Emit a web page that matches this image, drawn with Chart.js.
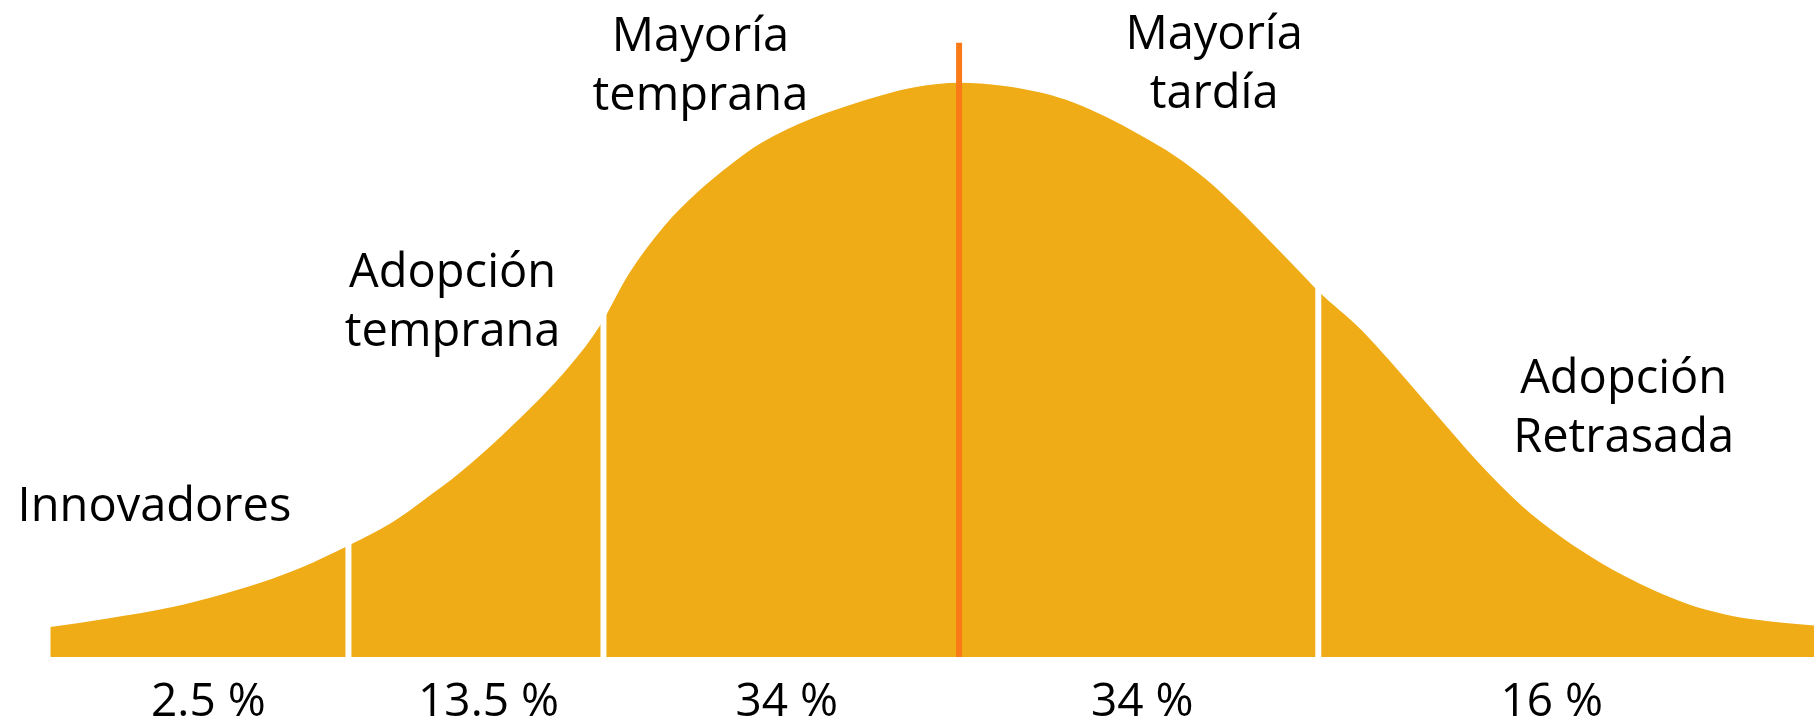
<!DOCTYPE html>
<html>
<head>
<meta charset="utf-8">
<script src="https://cdn.jsdelivr.net/npm/chart.js@4.4.1/dist/chart.umd.min.js"></script>
<style>
  body { margin: 0; background: #fff; }
</style>
</head>
<body>
<canvas id="chart" width="1814" height="722"></canvas>
<script>
// curve: x in standard deviations, y as density
const curveX = [-2.53, -2.37, -2.19, -2.05, -1.91, -1.80, -1.70, -1.58, -1.49, -1.39, -1.26,
  -1.08, -1.00, -0.92, -0.82, -0.73, -0.64, -0.55, -0.41, -0.31, -0.22, -0.12, 0.00, 0.12,
  0.23, 0.32, 0.41, 0.50, 0.60, 0.69, 0.78, 0.87, 0.97, 1.00, 1.12, 1.20, 1.29, 1.39,
  1.48, 1.57, 1.66, 1.76, 1.85, 1.94, 2.03, 2.13, 2.22, 2.38];
const curveY = [0.021, 0.027, 0.035, 0.044, 0.055, 0.066, 0.078, 0.094, 0.110, 0.129, 0.158,
  0.205, 0.232, 0.268, 0.302, 0.325, 0.344, 0.360, 0.377, 0.386, 0.393, 0.399, 0.402, 0.400,
  0.395, 0.388, 0.378, 0.366, 0.351, 0.334, 0.313, 0.290, 0.264, 0.256, 0.229, 0.207,
  0.181, 0.152, 0.127, 0.105, 0.087, 0.070, 0.057, 0.046, 0.037, 0.030, 0.026, 0.022];

// white lines between the groups, and the orange mean line
const dividerX = [-1.70, -0.99, 1.00];
const dividerTop = [0.09, 0.25, 0.27];
const meanX = 0.00;
const meanTop = 0.43;

// group share labels under the axis
const shareX = [-2.09, -1.31, -0.48, 0.51, 1.65];
const shareLabels = ['2.5 %', '13.5 %', '34 %', '34 %', '16 %'];

// group names (centre x, first line baseline y)
const groupNames = [
  ['Innovadores'],
  ['Adopción', 'temprana'],
  ['Mayoría', 'temprana'],
  ['Mayoría', 'tardía'],
  ['Adopción', 'Retrasada']
];
const groupNameX = [-2.24, -1.41, -0.72, 0.71, 1.85];
const groupNameY = [0.095, 0.259, 0.424, 0.426, 0.185];

const FILL = '#EFAC16';
const ORANGE = '#F97A17';
const FONT = "'Open Sans', 'Noto Sans', sans-serif";

const datasets = [{
  data: curveX.map((x, i) => ({ x: x, y: curveY[i] })),
  backgroundColor: FILL,
  borderWidth: 0,
  pointRadius: 0,
  fill: 'origin',
  cubicInterpolationMode: 'monotone',
  order: 3
}];
dividerX.forEach((x, i) => {
  datasets.push({
    data: [{ x: x, y: 0 }, { x: x, y: dividerTop[i] }],
    borderColor: '#ffffff',
    borderWidth: 6,
    pointRadius: 0,
    fill: false,
    order: 2
  });
});
datasets.push({
  data: [{ x: meanX, y: 0 }, { x: meanX, y: meanTop }],
  borderColor: ORANGE,
  borderWidth: 6,
  pointRadius: 0,
  fill: false,
  order: 1
});

// writes the group names next to the curve
const groupLabels = {
  id: 'groupLabels',
  afterDatasetsDraw(chart) {
    const ctx = chart.ctx;
    const xs = chart.scales.x;
    const ys = chart.scales.y;
    ctx.save();
    ctx.fillStyle = '#000';
    ctx.font = '47px ' + FONT;
    ctx.textAlign = 'center';
    ctx.textBaseline = 'alphabetic';
    groupNames.forEach((lines, i) => {
      const px = xs.getPixelForValue(groupNameX[i]);
      const py = ys.getPixelForValue(groupNameY[i]);
      lines.forEach((line, j) => ctx.fillText(line, px, py + j * 59));
    });
    ctx.restore();
  }
};

new Chart(document.getElementById('chart'), {
  type: 'line',
  data: { datasets: datasets },
  options: {
    responsive: false,
    animation: false,
    // the tick labels sit low, so the axis box runs past the canvas bottom
    layout: { padding: { left: 0, right: 0, top: 0, bottom: -27 } },
    plugins: { legend: { display: false }, tooltip: { enabled: false } },
    scales: {
      x: {
        type: 'linear',
        min: -2.67,
        max: 2.38,
        grid: { display: false, drawTicks: false },
        border: { display: false },
        afterBuildTicks: axis => {
          axis.ticks = shareX.map(v => ({ value: v }));
        },
        ticks: {
          autoSkip: false,
          maxRotation: 0,
          padding: 23,
          color: '#000',
          font: { family: FONT, size: 46, lineHeight: 1 },
          callback: (value, index) => shareLabels[index]
        }
      },
      y: {
        display: false,
        min: 0,
        max: 0.46
      }
    }
  },
  plugins: [groupLabels]
});
</script>
</body>
</html>
